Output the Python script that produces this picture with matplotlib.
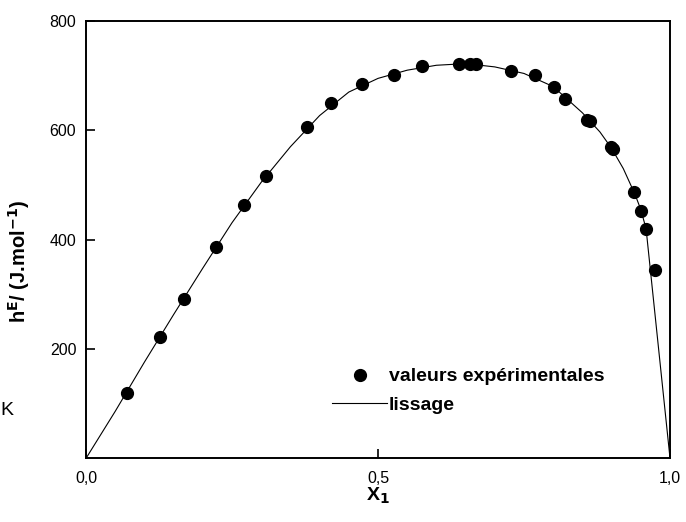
import matplotlib
matplotlib.use("Agg")
import matplotlib.pyplot as plt

plt.rcParams['font.family'] = ['Liberation Sans', 'DejaVu Sans']

# experimental points (x1, hE in J/mol)
x_exp = [0.070, 0.126, 0.167, 0.223, 0.271, 0.308, 0.379, 0.420, 0.472, 0.527,
         0.576, 0.639, 0.658, 0.668, 0.728, 0.768, 0.801, 0.821, 0.858, 0.863,
         0.899, 0.902, 0.938, 0.950, 0.959, 0.974]
h_exp = [120, 222, 291, 387, 464, 516, 606, 650, 684, 701,
         718, 721, 721, 721, 708, 702, 680, 657, 619, 617,
         570, 565, 487, 452, 420, 345]

# smoothing curve
x_fit = [0.0, 0.05, 0.10, 0.15, 0.20, 0.25, 0.30, 0.35, 0.40, 0.45,
         0.50, 0.55, 0.60, 0.65, 0.70, 0.75, 0.80, 0.85, 0.88, 0.90,
         0.92, 0.94, 0.95, 0.959, 1.0]
h_fit = [0, 86, 176, 263, 348, 431, 505, 570, 627, 670,
         695, 710, 719, 722, 716, 704, 680, 632, 597, 567,
         530, 483, 455, 420, 0]

x_ticks = [0.0, 0.5, 1.0]
x_ticklabels = ["0,0", "0,5", "1,0"]
y_ticks = [200, 400, 600, 800]

fig = plt.figure(figsize=(6.86, 5.22), dpi=100)
ax = fig.add_axes([0.1254, 0.122, 0.8513, 0.8378])

ax.plot(x_fit, h_fit, color="black", lw=0.8, label="lissage")
ax.plot(x_exp, h_exp, "o", color="black", ms=8.5, ls="none",
        label="valeurs expérimentales")

ax.set_xlim(0, 1)
ax.set_ylim(0, 800)
ax.set_xticks(x_ticks)
ax.set_xticklabels(x_ticklabels)
ax.set_yticks(y_ticks)
ax.tick_params(direction="in", length=6.5, width=1.2, labelsize=11.5,
               top=False, right=False)
ax.tick_params(axis="x", pad=9)
ax.tick_params(axis="y", pad=7)
for s in ax.spines.values():
    s.set_linewidth(1.4)

ax.set_xlabel(r"X$_\mathbf{1}$", fontsize=14, fontweight="bold", labelpad=0)
ax.set_ylabel(r"h$^\mathbf{E}$/ (J.mol$^\mathbf{-1}$)", fontsize=14.5,
              fontweight="bold")
ax.yaxis.set_label_coords(-0.093, 0.45)

handles, labels = ax.get_legend_handles_labels()
ax.legend(handles[::-1], labels[::-1], loc="lower left",
          bbox_to_anchor=(0.392, 0.062), frameon=False, numpoints=1,
          handlelength=2.8, handletextpad=0.1, labelspacing=0.55,
          borderpad=0.4, prop={"weight": "bold", "size": 14})

fig.text(0.0, 0.213, "K", fontsize=14, va="center", ha="left")

fig.savefig("out.png", dpi=100)
